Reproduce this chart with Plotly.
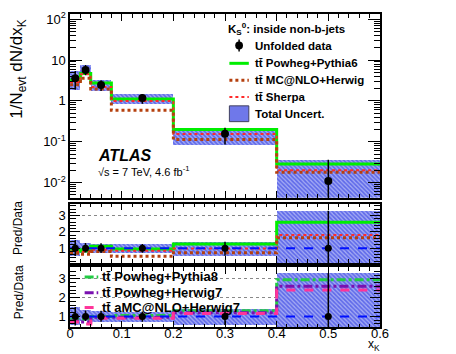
import plotly.graph_objects as go

# bins in x_K
edges = [0, 0.02, 0.04, 0.08, 0.2, 0.4, 0.6]
centers = [0.01, 0.03, 0.06, 0.14, 0.3, 0.5]

# unfolded data and total relative uncertainty (up / down)
data = [3.6, 5.7, 2.45, 1.18, 0.158, 0.011]
unc_up = [0.5, 0.32, 0.3, 0.26, 0.39, 2.3]
unc_dn = [0.48, 0.25, 0.29, 0.28, 0.46, 0.999]

# predictions shown in the top panel
pythia6 = [3.25, 4.7, 2.75, 1.12, 0.2, 0.0286]
mcnlo_herwig = [2.5, 3.6, 1.95, 0.59, 0.114, 0.018]
sherpa = [2.9, 4.5, 2.2, 1.0, 0.155, 0.02]

# predictions only shown as Pred/Data in the bottom panel
pythia8 = [0.85, 0.85, 1.0, 1.05, 1.3, 2.95]
herwig7 = [0.75, 0.7, 0.95, 0.95, 1.2, 2.6]
amcnlo_herwig7 = [0.7, 0.6, 0.9, 0.9, 1.15, 2.4]

W, H = 456, 354
FONT = "Liberation Sans, Arial, sans-serif"
BAND_BG = "#a3aaf3"
BAND_PAT = dict(shape="\\", fgcolor="#1a28e0", bgcolor=BAND_BG, size=3, solidity=0.55)

def px(x):
    return x / W

def py(y):
    return 1 - y / H

def step(v):
    return list(v) + [v[-1]]

widths = [edges[i + 1] - edges[i] for i in range(len(centers))]
ratio = lambda p: [p[i] / data[i] for i in range(len(data))]

fig = go.Figure()

# ---------- top panel
fig.add_bar(x=centers, width=widths, base=[d * (1 - e) for d, e in zip(data, unc_dn)],
            y=[d * (u + e) for d, u, e in zip(data, unc_up, unc_dn)],
            marker=dict(color=BAND_BG, pattern=BAND_PAT, line=dict(width=0)),
            xaxis="x", yaxis="y", showlegend=False)
fig.add_scatter(x=edges, y=step(pythia6), line_shape="hv", mode="lines",
                line=dict(color="#00ee00", width=3), xaxis="x", yaxis="y", showlegend=False)
fig.add_scatter(x=edges, y=step(sherpa), line_shape="hv", mode="lines",
                line=dict(color="#ff2a2a", width=2, dash="dot"), xaxis="x", yaxis="y", showlegend=False)
fig.add_scatter(x=edges, y=step(mcnlo_herwig), line_shape="hv", mode="lines",
                line=dict(color="#b5400e", width=3, dash="dot"), xaxis="x", yaxis="y", showlegend=False)
fig.add_scatter(x=centers, y=data, mode="markers", marker=dict(color="black", size=8),
                error_y=dict(type="data", array=[d * u for d, u in zip(data, unc_up)],
                             arrayminus=[d * e for d, e in zip(data, unc_dn)],
                             color="black", thickness=1.5, width=0),
                xaxis="x", yaxis="y", showlegend=False)

# ---------- ratio panels
panels = [
    ("x2", "y2", [(ratio(pythia6), "#00ee00", 3, "solid"),
                  (ratio(sherpa), "#ff2a2a", 2, "dot"),
                  (ratio(mcnlo_herwig), "#b5400e", 3, "dot")]),
    ("x3", "y3", [(pythia8, "#22cc44", 3, "dashdot"),
                  (herwig7, "#7a10b0", 3, "dashdot"),
                  (amcnlo_herwig7, "#ff3399", 3, "dash")]),
]
ones = [1.0] * len(data)
for xa, ya, preds in panels:
    fig.add_bar(x=centers, width=widths, base=[1 - e for e in unc_dn],
                y=[u + e for u, e in zip(unc_up, unc_dn)],
                marker=dict(color=BAND_BG, pattern=BAND_PAT, line=dict(width=0)),
                xaxis=xa, yaxis=ya, showlegend=False)
    for vals, col, lw, dash in preds:
        fig.add_scatter(x=edges, y=step(vals), line_shape="hv", mode="lines",
                        line=dict(color=col, width=lw, dash=dash), xaxis=xa, yaxis=ya, showlegend=False)
    fig.add_scatter(x=edges, y=step(ones), line_shape="hv", mode="lines",
                    line=dict(color="#0010ff", width=2, dash="dash"), xaxis=xa, yaxis=ya, showlegend=False)
    fig.add_scatter(x=centers, y=ones, mode="markers", marker=dict(color="black", size=7),
                    error_y=dict(type="data", array=unc_up, arrayminus=unc_dn,
                                 color="black", thickness=1.5, width=0),
                    xaxis=xa, yaxis=ya, showlegend=False)

# ---------- axes
xdom = [px(68), px(387)]
xcommon = dict(range=[0, 0.6], domain=xdom, showline=True, linecolor="black", linewidth=1.5,
               mirror="allticks", ticks="inside", ticklen=7, tickcolor="black",
               tickvals=[0, 0.1, 0.2, 0.3, 0.4, 0.5, 0.6], showgrid=False, zeroline=False,
               minor=dict(ticks="inside", ticklen=4, dtick=0.02, tick0=0, tickcolor="black"))
fig.update_layout(
    xaxis=dict(xcommon, anchor="y", showticklabels=False),
    xaxis2=dict(xcommon, anchor="y2", showticklabels=False, matches="x"),
    xaxis3=dict(xcommon, anchor="y3", matches="x", ticktext=["0", "0.1", "0.2", "0.3", "0.4", "0.5", "0.6"],
                tickfont=dict(size=13, color="black", family=FONT), ticklabelstandoff=-7),
)

decades = [-3, -2, -1, 0, 1, 2]
minor_vals = [k * 10 ** d for d in decades for k in range(2, 10)]
fig.update_layout(yaxis=dict(
    type="log", range=[-2.37, 2.13], domain=[py(196), py(10)], anchor="x",
    showline=True, linecolor="black", linewidth=1.5, mirror="allticks", ticks="inside",
    ticklen=12, tickcolor="black", showgrid=False, zeroline=False,
    tickvals=[0.01, 0.1, 1, 10, 100],
    ticktext=["10<sup>-2</sup>", "10<sup>-1</sup>", "1", "10", "10<sup>2</sup>"],
    tickfont=dict(size=13, color="black", family=FONT),
    minor=dict(ticks="inside", ticklen=6, tickvals=minor_vals, tickcolor="black")))

rcommon = dict(showline=True, linecolor="black", linewidth=1.5, mirror="allticks", ticks="inside",
               ticklen=10, tickcolor="black", tickvals=[1, 2, 3], showgrid=True,
               gridcolor="#888888", griddash="dot", gridwidth=1, zeroline=False,
               tickfont=dict(size=13, color="black", family=FONT),
               minor=dict(ticks="inside", ticklen=6, dtick=0.2, tick0=0, tickcolor="black", showgrid=False))
fig.update_layout(
    yaxis2=dict(rcommon, range=[0.09, 3.73], domain=[py(262), py(202)], anchor="x2"),
    yaxis3=dict(rcommon, range=[0.42, 3.63], domain=[py(327), py(266)], anchor="x3"),
)

# ---------- text
ann = [
    dict(x=px(15), y=py(66), text="1/N<sub>evt</sub> dN/dx<sub>K</sub>", textangle=-90, font=dict(size=17)),
    dict(x=px(15), y=py(227), text="Pred/Data", textangle=-90, font=dict(size=12)),
    dict(x=px(15), y=py(292), text="Pred/Data", textangle=-90, font=dict(size=12)),
    dict(x=px(388), y=py(354), text="x<sub>K</sub>", xanchor="right", yanchor="bottom",
         font=dict(size=12), borderpad=0),
    dict(x=px(95), y=py(153), text="<b><i>ATLAS</i></b>", xanchor="left", font=dict(size=16)),
    dict(x=px(95), y=py(169), text="\u221as = 7 TeV, 4.6 fb<sup>-1</sup>", xanchor="left", font=dict(size=11)),
    dict(x=px(229), y=py(25), text="<b>K<sub>S</sub><sup>0</sup>: inside non-b-jets</b>", xanchor="left", font=dict(size=11.5)),
]
tt = "tt\u0304"
top_rows = [(42, "Unfolded data"), (60, tt + " Powheg+Pythia6"), (77, tt + " MC@NLO+Herwig"),
            (94, tt + " Sherpa"), (111, "Total Uncert.")]
for y, label in top_rows:
    ann.append(dict(x=px(256), y=py(y), text="<b>" + label + "</b>", xanchor="left", font=dict(size=11.5)))
bot_rows = [(276, tt + " Powheg+Pythia8"), (292, tt + " Powheg+Herwig7"), (307, tt + " aMC@NLO+Herwig7")]
for y, label in bot_rows:
    ann.append(dict(x=px(99), y=py(y), text="<b>" + label + "</b>", xanchor="left", font=dict(size=13)))
for a in ann:
    a.update(xref="paper", yref="paper", showarrow=False, yanchor=a.get("yanchor", "middle"),
             xanchor=a.get("xanchor", "center"))
    a["font"] = dict(family=FONT, color="black", **a["font"])

shapes = []
def lseg(x0, x1, y, color, width, dash):
    shapes.append(dict(type="line", xref="paper", yref="paper", x0=px(x0), x1=px(x1), y0=py(y), y1=py(y),
                       line=dict(color=color, width=width, dash=dash)))

# top legend symbols
shapes.append(dict(type="line", xref="paper", yref="paper", x0=px(242), x1=px(242), y0=py(36), y1=py(48),
                   line=dict(color="black", width=1.5)))
shapes.append(dict(type="circle", xref="paper", yref="paper", x0=px(238), x1=px(246), y0=py(46), y1=py(38),
                   fillcolor="black", line=dict(width=0)))
lseg(232, 252, 60, "#00ee00", 3, "solid")
lseg(232, 252, 77, "#b5400e", 3, "dot")
lseg(232, 252, 94, "#ff2a2a", 2, "dot")
shapes.append(dict(type="rect", xref="paper", yref="paper", x0=px(232), x1=px(252), y0=py(119), y1=py(103),
                   fillcolor="#6f78ea", line=dict(color="#404060", width=1)))
# bottom legend symbols
lseg(83, 97, 276, "#22cc44", 3, "dashdot")
lseg(83, 97, 292, "#7a10b0", 3, "dashdot")
lseg(83, 97, 307, "#ff3399", 3, "dash")

fig.update_layout(width=W, height=H, margin=dict(l=0, r=0, t=0, b=0),
                  paper_bgcolor="white", plot_bgcolor="white", barmode="overlay",
                  bargap=0, annotations=ann, shapes=shapes, showlegend=False,
                  font=dict(family=FONT, color="black"))

fig.write_html("out.html", config={"displayModeBar": False},
               post_script="document.body.style.margin='0px';")
